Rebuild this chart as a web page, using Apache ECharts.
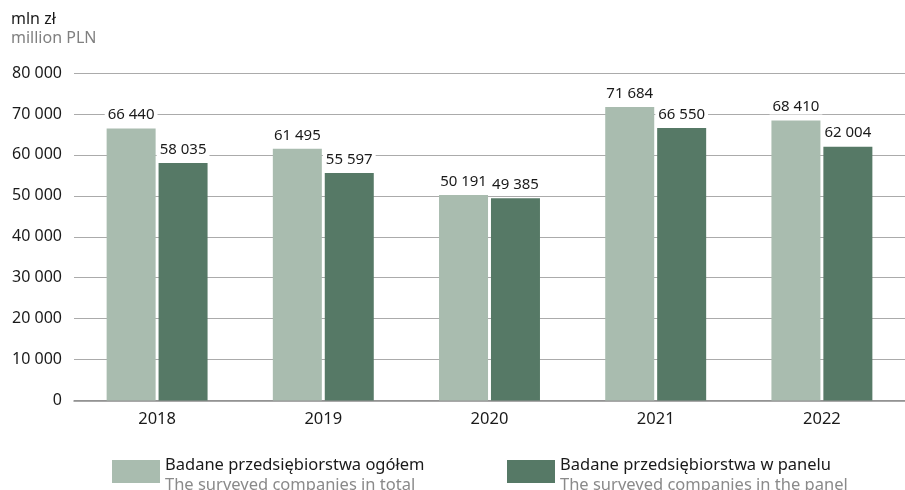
<!DOCTYPE html>
<html>
<head>
<meta charset="utf-8">
<script src="https://cdn.jsdelivr.net/npm/echarts@6/dist/echarts.min.js"></script>
<style>
  html, body { margin: 0; padding: 0; background: #fff; }
  #chart { width: 905px; height: 490px; }
</style>
</head>
<body>
<div id="chart"></div>
<script>
const years = ['2018', '2019', '2020', '2021', '2022']
const totalValues = [66440, 61495, 50191, 71684, 68410]
const panelValues = [58035, 55597, 49385, 66550, 62004]
const totalName = 'Badane przedsiębiorstwa ogółem'
const totalNameEn = 'The surveyed companies in total'
const panelName = 'Badane przedsiębiorstwa w panelu'
const panelNameEn = 'The surveyed companies in the panel'

const font = 'Noto Sans'
const fmt = v => String(v).replace(/\B(?=(\d{3})+(?!\d))/g, ' ')

const chart = echarts.init(document.getElementById('chart'))

const barLabel = {
  show: true,
  position: 'top',
  distance: 6,
  color: '#1a1a1a',
  fontFamily: font,
  fontSize: 15,
  backgroundColor: '#fff',
  padding: [0, 3],
  formatter: p => fmt(p.value)
}

function legendText(name) {
  const en = name === totalName ? totalNameEn : panelNameEn
  return '{a|' + name + '}\n{b|' + en + '}'
}
const legendBase = {
  top: 447.5,
  padding: 0,
  itemWidth: 48,
  itemHeight: 23,
  itemGap: 10,
  icon: 'rect',
  formatter: legendText,
  textStyle: {
    lineHeight: 20,
    padding: [8, 0, 0, 0],
    rich: {
      a: { fontFamily: font, fontSize: 16.5, color: '#1a1a1a', lineHeight: 20 },
      b: { fontFamily: font, fontSize: 16.5, color: '#8a8a8a', lineHeight: 20 }
    }
  }
}

const options = {
  animation: false,
  textStyle: { fontFamily: font },
  title: [{
    text: 'mln zł',
    left: 11,
    top: 11,
    padding: 0,
    textStyle: { fontFamily: font, fontSize: 16, fontWeight: 'normal', color: '#1a1a1a' }
  }, {
    text: 'million PLN',
    left: 11,
    top: 30,
    padding: 0,
    textStyle: { fontFamily: font, fontSize: 16, fontWeight: 'normal', color: '#808080' }
  }],
  legend: [
    Object.assign({ data: [totalName], left: 112 }, legendBase),
    Object.assign({ data: [panelName], left: 507 }, legendBase)
  ],
  grid: {
    left: 74,
    width: 844,
    top: 73,
    bottom: 89.5,
    containLabel: false
  },
  xAxis: {
    type: 'category',
    data: years,
    axisTick: { show: false },
    axisLine: { lineStyle: { color: '#8c8c8c', width: 1.5 } },
    axisLabel: { color: '#1a1a1a', fontSize: 16.5, fontFamily: font, margin: 10 }
  },
  yAxis: {
    type: 'value',
    min: 0,
    max: 80000,
    interval: 10000,
    axisLine: { show: false },
    axisTick: { show: false },
    splitLine: { lineStyle: { color: '#ababab', width: 1.2 } },
    axisLabel: { color: '#1a1a1a', fontSize: 16, fontFamily: font, margin: 12, formatter: v => fmt(v) }
  },
  series: [{
    name: totalName,
    type: 'bar',
    data: totalValues,
    barWidth: 49,
    barGap: '6%',
    itemStyle: { color: '#a9bcaf' },
    label: barLabel
  }, {
    name: panelName,
    type: 'bar',
    data: panelValues,
    barWidth: 49,
    itemStyle: { color: '#567966' },
    label: barLabel
  }]
}

chart.setOption(options)
</script>
</body>
</html>
